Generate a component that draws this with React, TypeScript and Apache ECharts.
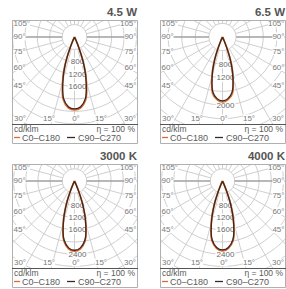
import React, { useEffect, useRef } from "react";
import * as echarts from "echarts";

// ---- data ----
const panelTitles = ["4.5 W", "6.5 W", "3000 K", "4000 K"];
const angles = [0, 5, 10, 13, 16, 18, 20, 22, 24, 26];
const c0c180 = [
  [2350, 2290, 2060, 1740, 1350, 1060, 740, 390, 160, 0],
  [1910, 1850, 1680, 1410, 1090, 850, 590, 320, 120, 0],
  [2300, 2230, 2000, 1700, 1310, 1020, 720, 390, 130, 0],
  [2290, 2220, 1990, 1690, 1300, 1010, 710, 380, 130, 0],
];
const c90c270 = [
  [2320, 2260, 2020, 1700, 1310, 1030, 715, 375, 150, 0],
  [1880, 1820, 1640, 1380, 1060, 825, 575, 305, 110, 0],
  [2270, 2200, 1965, 1660, 1280, 995, 695, 375, 120, 0],
  [2260, 2190, 1955, 1650, 1270, 985, 690, 365, 120, 0],
];
const ringLabels = [
  [800, 1200, 1600],
  [800, 1200, 2000],
  [800, 1200, 1600, 2400],
  [800, 1200, 1600, 2400],
];
const ringStep = 400;
const sideTicks = ["105°", "90°", "75°", "60°", "45°"];
const bottomTicks = ["30°", "15°", "0°", "15°", "30°"];
const legendNames = ["C0–C180", "C90–C270"];
const unitLabel = "cd/klm";
const efficiencyLabel = "η = 100 %";

// ---- layout ----
const panels = [
  { left: 12, top: 20, k: 0.031 },
  { left: 160, top: 20, k: 0.034 },
  { left: 12, top: 164, k: 0.0305 },
  { left: 160, top: 164, k: 0.0305 },
];
const boxW = 125;
const polarH = 104;
const centerDy = 17;
const legendH = 19;
const sideY = [3.5, 16.5, 31, 47, 65];
const bottomX = [8, 37, 64, 89, 118];
const bottomY = 98.5;
const ORANGE = "#e2692c";
const DARK = "#3a2a25";
const GRID = "#c9c9c9";
const FONT = "Liberation Sans, Arial, sans-serif";

function curvePoints(vals: number[]) {
  const pts: number[][] = [];
  for (let i = angles.length - 1; i >= 0; i--) {
    const a = (angles[i] * Math.PI) / 180;
    pts.push([-vals[i] * Math.sin(a), -vals[i] * Math.cos(a)]);
  }
  for (let i = 1; i < angles.length; i++) {
    const a = (angles[i] * Math.PI) / 180;
    pts.push([vals[i] * Math.sin(a), -vals[i] * Math.cos(a)]);
  }
  return pts;
}

export default function App() {
  const ref = useRef<HTMLDivElement>(null);
  useEffect(() => {
    if (!ref.current) return;
    const chart = echarts.init(ref.current, undefined, { renderer: "svg" });
    const grid: any[] = [];
    const xAxis: any[] = [];
    const yAxis: any[] = [];
    const series: any[] = [];
    const graphic: any[] = [];

    panels.forEach((p, i) => {
      grid.push({ left: p.left, top: p.top, width: boxW, height: polarH });
      xAxis.push({
        type: "value", gridIndex: i, show: false,
        min: -(boxW / 2) / p.k, max: boxW / 2 / p.k,
      });
      yAxis.push({
        type: "value", gridIndex: i, show: false,
        min: -(polarH - centerDy) / p.k, max: centerDy / p.k,
      });
      const labels = ringLabels[i];
      series.push({
        type: "custom", xAxisIndex: i, yAxisIndex: i, clip: true, silent: true, z: 1,
        data: [[0, 0]],
        renderItem: (params: any, api: any) => {
          const c = api.coord([0, 0]);
          const unit = api.size([ringStep, 0])[0];
          const children: any[] = [];
          for (let n = 1; n <= 12; n++) {
            children.push({
              type: "circle",
              shape: { cx: c[0], cy: c[1], r: n * unit },
              style: { fill: "none", stroke: GRID, lineWidth: 0.9 },
            });
          }
          for (let a = 0; a < 360; a += 15) {
            const rad = (a * Math.PI) / 180;
            const r0 = unit;
            const r1 = 300;
            const main = a === 90 || a === 270;
            children.push({
              type: "line",
              shape: {
                x1: c[0] + r0 * Math.sin(rad), y1: c[1] + r0 * Math.cos(rad),
                x2: c[0] + r1 * Math.sin(rad), y2: c[1] + r1 * Math.cos(rad),
              },
              style: { stroke: main ? "#a0a0a0" : GRID, lineWidth: main ? 1.3 : 0.9 },
            });
          }
          labels.forEach((v) => {
            children.push({
              type: "text",
              x: c[0] + 3, y: c[1] + (v / ringStep) * unit,
              style: {
                text: String(v), fill: "#6a6a6a", font: `8px ${FONT}`,
                align: "center", verticalAlign: "middle",
                backgroundColor: "#fff", padding: [0, 1],
              },
            });
          });
          return { type: "group", children };
        },
      });
      series.push({
        type: "line", name: legendNames[0], xAxisIndex: i, yAxisIndex: i,
        data: curvePoints(c0c180[i]), showSymbol: false, smooth: 0.35, z: 3,
        lineStyle: { color: ORANGE, width: 1.8 },
      });
      series.push({
        type: "line", name: legendNames[1], xAxisIndex: i, yAxisIndex: i,
        data: curvePoints(c90c270[i]), showSymbol: false, smooth: 0.35, z: 4,
        lineStyle: { color: DARK, width: 1.3 },
      });

      const L = p.left, T = p.top;
      graphic.push({
        type: "rect", shape: { x: L + 0.5, y: T + 0.5, width: boxW, height: polarH + legendH },
        style: { fill: "none", stroke: "#b0b0b0", lineWidth: 1 }, z: 10,
      });
      graphic.push({
        type: "line", shape: { x1: L, y1: T + polarH + 0.5, x2: L + boxW + 1, y2: T + polarH + 0.5 },
        style: { stroke: "#555", lineWidth: 1.2 }, z: 10,
      });
      graphic.push({
        type: "text", x: L + boxW, y: T - 8,
        style: { text: panelTitles[i], font: `bold 11.5px ${FONT}`, fill: "#555", align: "right", verticalAlign: "middle" },
        z: 10,
      });
      sideTicks.forEach((t, j) => {
        graphic.push({
          type: "text", x: L + 1.5, y: T + sideY[j],
          style: { text: t, font: `8px ${FONT}`, fill: "#7a7a7a", align: "left", verticalAlign: "middle", backgroundColor: "#fff" },
          z: 9,
        });
        graphic.push({
          type: "text", x: L + boxW - 0.5, y: T + sideY[j],
          style: { text: t, font: `8px ${FONT}`, fill: "#7a7a7a", align: "right", verticalAlign: "middle", backgroundColor: "#fff" },
          z: 9,
        });
      });
      bottomTicks.forEach((t, j) => {
        graphic.push({
          type: "text", x: L + bottomX[j], y: T + bottomY,
          style: { text: t, font: `8px ${FONT}`, fill: "#7a7a7a", align: "center", verticalAlign: "middle", backgroundColor: "#fff" },
          z: 9,
        });
      });
      const ly1 = T + polarH + 5;
      const ly2 = T + polarH + 13.5;
      graphic.push({
        type: "text", x: L + 2, y: ly1,
        style: { text: unitLabel, font: `8.5px ${FONT}`, fill: "#5a5a5a", align: "left", verticalAlign: "middle" }, z: 10,
      });
      graphic.push({
        type: "text", x: L + boxW - 2, y: ly1,
        style: { text: efficiencyLabel, font: `8.5px ${FONT}`, fill: "#5a5a5a", align: "right", verticalAlign: "middle" }, z: 10,
      });
      graphic.push({
        type: "line", shape: { x1: L + 2, y1: ly2, x2: L + 8, y2: ly2 },
        style: { stroke: ORANGE, lineWidth: 1.3 }, z: 10,
      });
      graphic.push({
        type: "text", x: L + 10, y: ly2,
        style: { text: legendNames[0], font: `9px ${FONT}`, fill: "#5a5a5a", align: "left", verticalAlign: "middle" }, z: 10,
      });
      graphic.push({
        type: "line", shape: { x1: L + 55, y1: ly2, x2: L + 63, y2: ly2 },
        style: { stroke: DARK, lineWidth: 1.3 }, z: 10,
      });
      graphic.push({
        type: "text", x: L + 66, y: ly2,
        style: { text: legendNames[1], font: `9px ${FONT}`, fill: "#5a5a5a", align: "left", verticalAlign: "middle" }, z: 10,
      });
    });

    chart.setOption({
      animation: false,
      backgroundColor: "#fff",
      grid, xAxis, yAxis, series, graphic,
    });
    return () => chart.dispose();
  }, []);
  return (
    <div
      ref={ref}
      style={{ position: "fixed", left: 0, top: 0, width: 286, height: 289 }}
    />
  );
}
